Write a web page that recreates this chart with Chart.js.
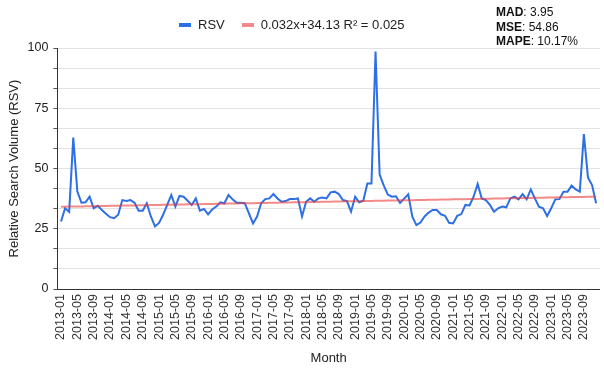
<!DOCTYPE html>
<html>
<head>
<meta charset="utf-8">
<script src="https://cdn.jsdelivr.net/npm/chart.js@4.4.1/dist/chart.umd.min.js"></script>
<style>
  body { margin: 0; background: #fff; font-family: "Liberation Sans", Arial, sans-serif; }
  #wrap { position: relative; width: 604px; height: 380px; }
  #legend { position: absolute; left: 179px; top: 16px; height: 17px; display: flex; align-items: center; font-size: 13px; color: #222; }
  .sw { width: 12px; height: 4px; margin-right: 7px; }
  #stats { position: absolute; left: 496px; top: 5px; font-size: 12px; line-height: 14.5px; color: #111; }
</style>
</head>
<body>
<div id="wrap">
  <canvas id="chart" width="604" height="380"></canvas>
  <div id="legend"></div>
  <div id="stats"></div>
</div>
<script>
const months = [
  '2013-01','2013-02','2013-03','2013-04','2013-05','2013-06','2013-07','2013-08','2013-09','2013-10','2013-11','2013-12',
  '2014-01','2014-02','2014-03','2014-04','2014-05','2014-06','2014-07','2014-08','2014-09','2014-10','2014-11','2014-12',
  '2015-01','2015-02','2015-03','2015-04','2015-05','2015-06','2015-07','2015-08','2015-09','2015-10','2015-11','2015-12',
  '2016-01','2016-02','2016-03','2016-04','2016-05','2016-06','2016-07','2016-08','2016-09','2016-10','2016-11','2016-12',
  '2017-01','2017-02','2017-03','2017-04','2017-05','2017-06','2017-07','2017-08','2017-09','2017-10','2017-11','2017-12',
  '2018-01','2018-02','2018-03','2018-04','2018-05','2018-06','2018-07','2018-08','2018-09','2018-10','2018-11','2018-12',
  '2019-01','2019-02','2019-03','2019-04','2019-05','2019-06','2019-07','2019-08','2019-09','2019-10','2019-11','2019-12',
  '2020-01','2020-02','2020-03','2020-04','2020-05','2020-06','2020-07','2020-08','2020-09','2020-10','2020-11','2020-12',
  '2021-01','2021-02','2021-03','2021-04','2021-05','2021-06','2021-07','2021-08','2021-09','2021-10','2021-11','2021-12',
  '2022-01','2022-02','2022-03','2022-04','2022-05','2022-06','2022-07','2022-08','2022-09','2022-10','2022-11','2022-12',
  '2023-01','2023-02','2023-03','2023-04','2023-05','2023-06','2023-07','2023-08','2023-09','2023-10','2023-11','2023-12'
];

const rsv = [
  28, 33.5, 32, 62.8, 40.4, 35.8, 36, 38.3, 33.5, 34.5, 32.8, 31.2,
  29.8, 29.4, 30.8, 36.9, 36.5, 36.9, 35.8, 32.5, 32.5, 35.6, 30.1, 26,
  27.4, 30.8, 34.9, 39, 34.2, 38.6, 38.3, 36.6, 34.9, 37.6, 32.5, 33.2,
  31, 33, 34.2, 36, 35.6, 39, 37.2, 35.8, 35.8, 35.6, 31.4, 27.2,
  30.1, 35.6, 37.3, 37.6, 39.4, 37.6, 36.2, 36.5, 37.3, 37.3, 37.6, 30.1,
  36.2, 37.6, 36.2, 37.6, 38, 37.6, 40.1, 40.4, 39.4, 36.9, 36.5, 32.1,
  38.3, 36, 36.6, 43.8, 43.8, 98.5, 47.5, 43, 39.2, 38.3, 38.5, 35.7,
  37.5, 39.3, 30, 26.5, 27.6, 30.1, 31.7, 32.8, 32.8, 31, 30.4, 27.5,
  27.2, 30.4, 31.1, 34.9, 34.7, 38.3, 43.6, 37.6, 36.9, 34.9, 32.1, 33.5,
  34.2, 33.9, 37.6, 38.3, 37.2, 39.4, 37.2, 41.3, 37.6, 34.2, 33.5, 30.3,
  33.5, 37.2, 37.3, 40.4, 40.4, 42.9, 41.3, 40.4, 64.3, 46.3, 43.1, 35.6
];

const trendSlope = 0.032;
const trendIntercept = 34.13;
const trendLabel = '0.032x+34.13 R\u00b2 = 0.025';

const xTickLabels = [
  '2013-01','2013-05','2013-09','2014-01','2014-05','2014-09','2015-01','2015-05','2015-09',
  '2016-01','2016-05','2016-09','2017-01','2017-05','2017-09','2018-01','2018-05','2018-09',
  '2019-01','2019-05','2019-09','2020-01','2020-05','2020-09','2021-01','2021-05','2021-09',
  '2022-01','2022-05','2022-09','2023-01','2023-05','2023-09'
];
const yTickLabels = [0, 25, 50, 75, 100];
const minorPerMajor = 3;

const stats = [['MAD', '3.95'], ['MSE', '54.86'], ['MAPE', '10.17%']];

const blue = '#2d6fe4';
const red = 'rgba(235, 60, 60, 0.6)';

// legend and stats box
document.getElementById('legend').innerHTML =
  `<span class="sw" style="background:${blue}"></span><span style="margin-right:17px">RSV</span>` +
  `<span class="sw" style="background:${red}"></span><span>${trendLabel}</span>`;
document.getElementById('stats').innerHTML =
  stats.map(s => `<div><b>${s[0]}</b>: ${s[1]}</div>`).join('');

const rsvPoints = rsv.map((v, i) => ({ x: i, y: v }));
const trendPoints = months.map((m, i) => ({ x: i, y: trendIntercept + trendSlope * i }));

const font = { family: '"Liberation Sans", Arial, sans-serif' };

new Chart(document.getElementById('chart'), {
  type: 'line',
  data: {
    datasets: [
      { label: 'RSV', data: rsvPoints, borderColor: blue, backgroundColor: blue, borderWidth: 2, pointRadius: 0, tension: 0, order: 1 },
      { label: trendLabel, data: trendPoints, borderColor: red, backgroundColor: red, borderWidth: 2, pointRadius: 0, order: 0 }
    ]
  },
  options: {
    responsive: false,
    animation: false,
    layout: { padding: { top: 48, left: 3, right: 4, bottom: 10 } },
    plugins: { legend: { display: false }, tooltip: { enabled: false } },
    scales: {
      x: {
        type: 'linear',
        min: -0.87,
        max: 131.9,
        grid: { display: false, drawTicks: false },
        border: { color: '#333', width: 1 },
        afterBuildTicks: axis => {
          axis.ticks = xTickLabels.map(l => ({ value: months.indexOf(l) }));
        },
        ticks: {
          autoSkip: false, minRotation: 90, maxRotation: 90, padding: 5,
          color: '#333', font: { ...font, size: 12.5 },
          callback: v => months[v]
        },
        title: { display: true, text: 'Month', color: '#222', font: { ...font, size: 13 }, padding: { top: 5.5, bottom: 4 } }
      },
      y: {
        min: 0,
        max: 100,
        afterBuildTicks: axis => {
          const step = (yTickLabels[1] - yTickLabels[0]) / minorPerMajor;
          const t = [];
          for (let k = 0; k <= (yTickLabels.length - 1) * minorPerMajor; k++) t.push({ value: k * step });
          axis.ticks = t;
        },
        grid: { color: '#e2e2e2', tickColor: '#555', tickLength: 4 },
        border: { color: '#333', width: 1 },
        ticks: {
          autoSkip: false,
          padding: 5, color: '#222', font: { ...font, size: 12.5 },
          callback: v => {
            const r = Math.round(v);
            return yTickLabels.includes(r) && Math.abs(v - r) < 1e-6 ? r : '';
          }
        },
        title: { display: true, text: 'Relative Search Volume (RSV)', color: '#222', font: { ...font, size: 13 }, padding: { top: 4, bottom: 0 } }
      }
    }
  }
});
</script>
</body>
</html>
